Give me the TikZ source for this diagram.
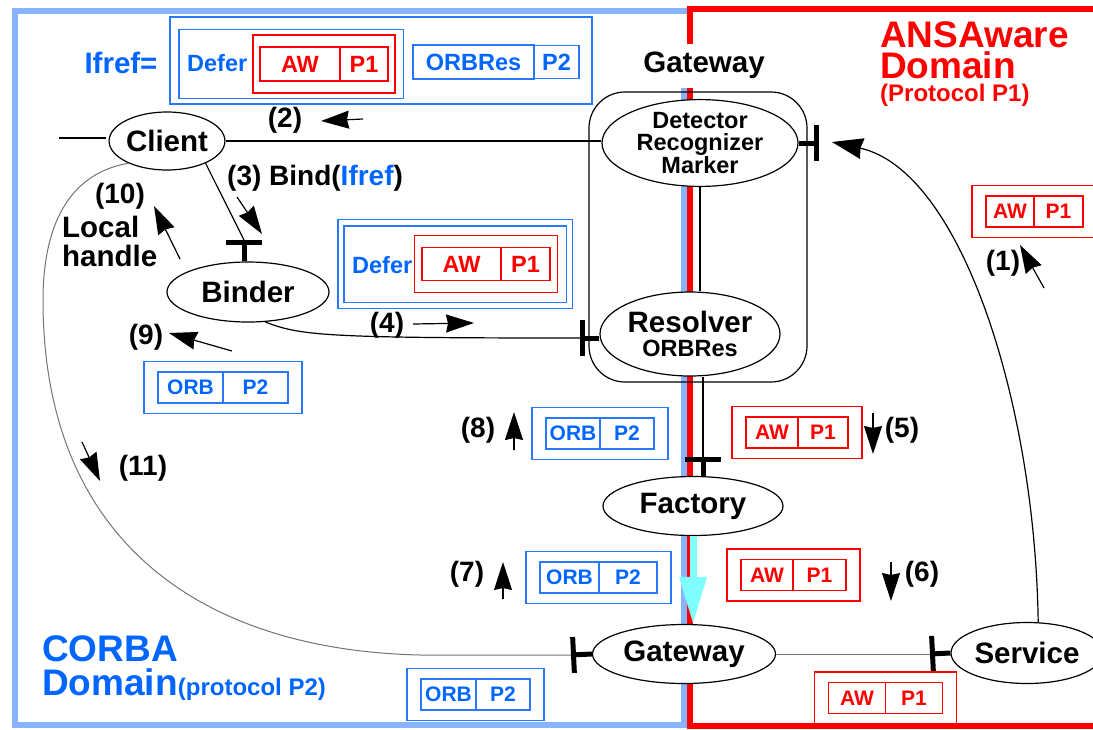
\documentclass[tikz,border=0pt]{standalone}
\usepackage{fontspec}
\setmainfont{Liberation Sans}
\usetikzlibrary{arrows.meta,positioning,shapes.geometric,fit}

\definecolor{ared}{RGB}{255,0,0}
\definecolor{tblue}{RGB}{0,102,255}
\definecolor{bblue}{RGB}{40,120,255}
\definecolor{lblue}{RGB}{136,180,255}
\definecolor{acyan}{RGB}{128,255,255}

\newcommand{\fbig}{\fontsize{28}{29}\selectfont\bfseries}
\newcommand{\fnode}{\fontsize{29.5}{29}\selectfont\bfseries}
\newcommand{\fmid}{\fontsize{23.5}{22}\selectfont\bfseries}
\newcommand{\fcell}{\fontsize{21}{21}\selectfont\bfseries}
\newcommand{\fdom}{\fontsize{37}{31}\selectfont\bfseries}
\newcommand{\fprot}{\fontsize{24}{24}\selectfont\bfseries}

\begin{document}
\begin{tikzpicture}[x=1pt,y=-1pt,>={Stealth[length=28pt,width=18pt,inset=2pt]},
    proc/.style={draw,ellipse,fill=white,line width=1.2pt,inner sep=0pt,font=\fnode},
    tee/.style={line width=5pt,-{Bar[width=36pt]}},
    cline/.style={line width=1.2pt},
    gline/.style={line width=1pt,black!55},
    lab/.style={font=\fbig,inner sep=0pt},
    rc/.style={draw=ared,text=ared,line width=1.2pt,outer sep=0pt,inner sep=0pt,minimum height=31,font=\fcell},
    bc/.style={rc,draw=bblue,text=tblue},
    rbox/.style={draw=ared,line width=1.2pt,inner xsep=14,inner ysep=10.5},
    bbox/.style={rbox,draw=bblue}]
  \useasboundingbox (0,0) rectangle (1093,729);

  \draw[lblue,line width=6pt] (684,88) -- (684,725) -- (15,725) -- (15,11) -- (687,11);
  \draw[ared,line width=6pt] (690,44) -- (690,9) -- (1100,9);
  \draw[ared,line width=6pt] (690,88) -- (690,726) -- (1100,726);

  \node[text=ared,font=\fdom,inner sep=0pt,anchor=north west,align=left] (ans) at (880,21)
    {ANSAware\\Domain\\[-8pt]\fprot (Protocol P1)};
  \node[text=tblue,font=\fdom,inner sep=0pt,anchor=north west,align=left] (cor) at (42,635)
    {CORBA\\[3pt]Domain{\fprot (protocol P2)}};

  \node[lab,font=\fnode,anchor=base] (gwl) at (704,72) {Gateway};
  \node[draw,line width=1.2pt,rounded corners=36,minimum width=218,minimum height=290] (gwb) at (698,237) {};

  \node[proc,minimum width=196,minimum height=80,font=\fmid,align=center] (det) at (700,143) {Detector\\Recognizer\\Marker};
  \node[proc,minimum width=180,minimum height=84,align=center] (res) at (690,334) {Resolver\\[-5pt]\fmid ORBRes};
  \node[proc,minimum width=108,minimum height=58] (cli) at (167,141) {Client};
  \node[proc,minimum width=162,minimum height=60] (bin) at (248,292) {Binder};
  \node[proc,minimum width=180,minimum height=59] (fac) at (693,506) {Factory};
  \node[proc,minimum width=183,minimum height=59] (gw2) at (684,654) {Gateway};
  \node[proc,minimum width=152,minimum height=61] (svc) at (1027,653) {Service};

  \coordinate (t1) at (819,143);
  \coordinate (t3) at (244,240);
  \coordinate (t4) at (580,338);
  \coordinate (t5) at (703,457);
  \coordinate (t6) at (930,654);
  \coordinate (t11) at (571,655);
  \coordinate (a1) at (832,142);
  \coordinate (c0) at (59,138);
  \coordinate (c1) at (106,138);

  \draw[cline] (c0) -- (c1);
  \draw[cline] (cli.east) -- (cli.east -| det.west);
  \draw[cline] (cli.-30) -- (t3);
  \draw[cline] (det.south) -- (det.south |- res.north);
  \draw[cline] (t5 |- res.south) -- (t5);
  \draw[cline] (bin.-60) .. controls (300,336) and (330,338) .. (t4);
  \draw[gline] (gw2.east) -- (t6);
  \draw[gline] (cli.-150) .. controls (60,175) and (43,240) .. (43,300)
    .. controls (43,540) and (200,650) .. (420,655) -- (t11);
  \draw[cline,->,>={Stealth[length=31pt,width=21pt,inset=2pt]}] (svc.70) .. controls (1035,400) and (960,170) .. (a1);
  \draw[acyan,line width=7pt,-{Triangle[length=47pt,width=26pt]}] (fac.south) -- (fac.south |- gw2.north);

  \draw[tee] (det.east) -- (t1);
  \draw[tee] (t3 |- bin.north) -- (t3);
  \draw[tee] (t4 -| res.west) -- (t4);
  \draw[tee] (t5 |- fac.north) -- (t5);
  \draw[tee] (gw2.west) -- (t11);
  \draw[tee] (svc.west) -- (t6);

  \node[lab,font=\fnode,text=tblue] (ifl) at (121,63) {Ifref=};
  \node[rc,minimum width=80,minimum height=34,font=\fmid] (aw0) at (300,64) {AW};
  \node[rc,minimum width=48,minimum height=34,font=\fmid,right=0pt of aw0] (p10) {P1};
  \node[draw=ared,line width=1.2pt,fit=(aw0)(p10),inner xsep=7,inner ysep=12] (r0) {};
  \node[text=tblue,font=\fmid,inner sep=0pt,anchor=west] (df0) at (187,63) {Defer};
  \node[draw=bblue,line width=1.2pt,fit=(df0)(r0),inner xsep=8,inner ysep=5] (d0) {};
  \node[bc,minimum width=121,minimum height=34,font=\fmid] (ob0) at (473.5,62) {ORBRes};
  \node[bc,minimum width=45,minimum height=33,font=\fmid,right=0pt of ob0] (p20) {P2};
  \node[draw=bblue,line width=1.2pt,minimum width=422,minimum height=87] (ifr) at (381,60.5) {};

  \node[rc,minimum width=79,minimum height=33,font=\fmid] (aw1) at (461.5,264) {AW};
  \node[rc,minimum width=49,minimum height=33,font=\fmid,right=0pt of aw1] (p11) {P1};
  \node[draw=ared,line width=1.2pt,fit=(aw1)(p11),inner xsep=7.5,inner ysep=12] (r1) {};
  \node[text=tblue,font=\fmid,inner sep=0pt,anchor=west] (df1) at (352,265) {Defer};
  \node[draw=bblue,line width=1.2pt,fit=(df1)(r1),inner xsep=8,inner ysep=9] (d1) {};
  \node[draw=bblue,line width=1.2pt,fit=(d1),inner sep=5.5] (d1o) {};

  \node[rc,minimum width=48] (aw2) at (1010,211.5) {AW};
  \node[rc,minimum width=49,right=0pt of aw2] (p12) {P1};
  \node[rbox,fit=(aw2)(p12)] (g1) {};
  \node[rc,minimum width=52] (aw5) at (772,432.5) {AW};
  \node[rc,minimum width=50,right=0pt of aw5] (p15) {P1};
  \node[rbox,fit=(aw5)(p15)] (g5) {};
  \node[rc,minimum width=52] (aw6) at (767,575) {AW};
  \node[rc,minimum width=53,right=0pt of aw6] (p16) {P1};
  \node[rbox,fit=(aw6)(p16)] (g6) {};
  \node[rc,minimum width=57] (awb) at (857,698) {AW};
  \node[rc,minimum width=57,right=0pt of awb] (p1b) {P1};
  \node[rbox,fit=(awb)(p1b)] (gb) {};

  \node[bc,minimum width=65] (orb9) at (190.5,387.5) {ORB};
  \node[bc,minimum width=65,right=0pt of orb9] (p29) {P2};
  \node[bbox,fit=(orb9)(p29)] (g9) {};
  \node[bc,minimum width=54] (orb8) at (573,433.5) {ORB};
  \node[bc,minimum width=54,right=0pt of orb8] (p28) {P2};
  \node[bbox,fit=(orb8)(p28)] (g8) {};
  \node[bc,minimum width=59] (orb7) at (569.5,577.5) {ORB};
  \node[bc,minimum width=58,right=0pt of orb7] (p27) {P2};
  \node[bbox,fit=(orb7)(p27)] (g7) {};
  \node[bc,minimum width=55] (orbl) at (448.5,694.5) {ORB};
  \node[bc,minimum width=54,right=0pt of orbl] (p2l) {P2};
  \node[bbox,fit=(orbl)(p2l)] (gl) {};

  \node[lab] (l1) at (1003,263) {(1)};
  \node[lab] (l2) at (285,120) {(2)};
  \node[lab,anchor=west] (l3) at (227,178) {(3) Bind(\textcolor{tblue}{Ifref})};
  \node[lab] (l4) at (387,325) {(4)};
  \node[lab] (l5) at (902,430) {(5)};
  \node[lab] (l6) at (922,574) {(6)};
  \node[lab] (l7) at (467,574) {(7)};
  \node[lab] (l8) at (478,430) {(8)};
  \node[lab] (l9) at (146,337) {(9)};
  \node[lab] (l10) at (120,196) {(10)};
  \node[lab,font=\fnode,align=left,anchor=west] (lh) at (62,241) {Local\\handle};
  \node[lab] (l11) at (143,468) {(11)};

  \coordinate (s1) at (1044,288); \coordinate (e1) at (1020,245);
  \coordinate (s2) at (363,119);  \coordinate (e2) at (321,121);
  \coordinate (s3) at (237,197);  \coordinate (e3) at (262,234);
  \coordinate (s4) at (413,324);  \coordinate (e4) at (474,323);
  \coordinate (s5) at (873,413);  \coordinate (e5) at (873,454);
  \coordinate (s6) at (891,562);  \coordinate (e6) at (891,601);
  \coordinate (s7) at (503,599);  \coordinate (e7) at (503,562);
  \coordinate (s8) at (514,450);  \coordinate (e8) at (514,412);
  \coordinate (s9) at (232,351);  \coordinate (e9) at (169,333);
  \coordinate (s10) at (180,259); \coordinate (e10) at (154,206);
  \coordinate (s11) at (82,442);  \coordinate (e11) at (100,481);

  \path[cline,->]
    (s1) edge (e1)
    (s2) edge (e2)
    (s3) edge (e3)
    (s4) edge (e4)
    (s5) edge (e5)
    (s6) edge (e6)
    (s7) edge (e7)
    (s8) edge (e8)
    (s9) edge (e9)
    (s10) edge (e10)
    (s11) edge (e11)
    ;
\end{tikzpicture}
\end{document}
